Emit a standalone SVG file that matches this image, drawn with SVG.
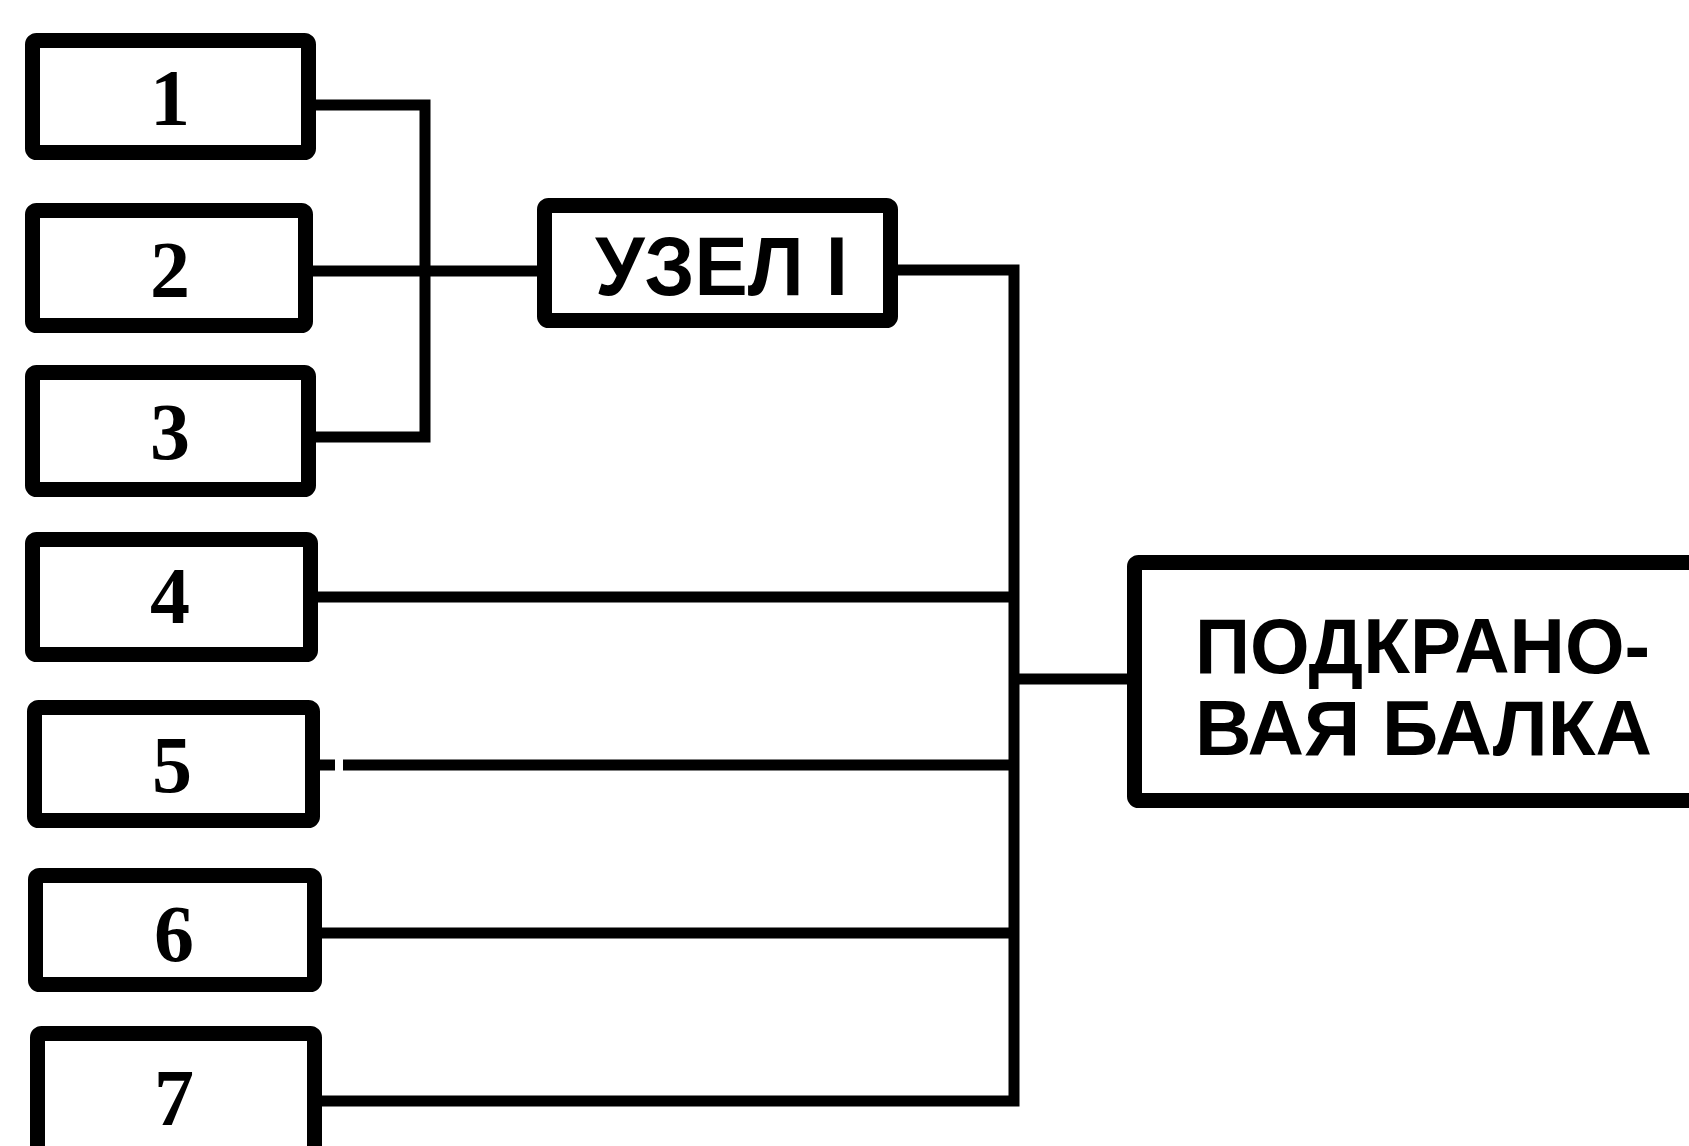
<svg xmlns="http://www.w3.org/2000/svg" width="1689" height="1146" viewBox="0 0 1689 1146">
<style>
.box{fill:#fff;stroke:#000;stroke-width:15;stroke-linejoin:round}
.wire{fill:none;stroke:#000;stroke-width:11;stroke-linejoin:miter}
.num{font-family:"Liberation Serif",serif;font-weight:bold;font-size:80px;text-anchor:middle;fill:#000}
.lbl{font-family:"Liberation Sans",Arial,sans-serif;font-weight:bold;fill:#000}
</style>
<rect width="1689" height="1146" fill="#fff"/>
<g id="connectors">
<path class="wire" d="M316 105 H425 V437 H316"/>
<path class="wire" d="M313 271 H537"/>
<path class="wire" d="M898 270 H1014 V1101 H322"/>
<path class="wire" d="M318 597 H1014"/>
<path class="wire" d="M320 765 H335 M343 765 H1014"/>
<path class="wire" d="M322 933 H1014"/>
<path class="wire" d="M1014 679 H1127"/>
</g>
<g id="n1"><rect class="box" x="32.5" y="40.5" width="276" height="112" rx="4"/><text class="num" x="170" y="125">1</text></g>
<g id="n2"><rect class="box" x="32.5" y="210.5" width="273" height="115" rx="4"/><text class="num" x="170" y="297">2</text></g>
<g id="n3"><rect class="box" x="32.5" y="372.5" width="276" height="117" rx="4"/><text class="num" x="170" y="459">3</text></g>
<g id="n4"><rect class="box" x="32.5" y="539.5" width="278" height="115" rx="4"/><text class="num" x="170" y="623">4</text></g>
<g id="n5"><rect class="box" x="34.5" y="707.5" width="278" height="113" rx="4"/><text class="num" x="172" y="792">5</text></g>
<g id="n6"><rect class="box" x="35.5" y="875.5" width="279" height="109" rx="4"/><text class="num" x="174" y="961">6</text></g>
<g id="n7"><rect class="box" x="37.5" y="1033.5" width="277" height="140" rx="4"/><text class="num" x="174" y="1125">7</text></g>
<g id="uzel"><rect class="box" x="544.5" y="205.5" width="346" height="115" rx="4"/><text class="lbl" x="595" y="295" font-size="84" textLength="253" lengthAdjust="spacingAndGlyphs">УЗЕЛ I</text></g>
<g id="balka"><rect class="box" x="1134.5" y="562.5" width="600" height="238" rx="4"/>
<text class="lbl" x="1195" y="673" font-size="78" textLength="455" lengthAdjust="spacingAndGlyphs">ПОДКРАНО-</text>
<text class="lbl" x="1195" y="755" font-size="78" textLength="457" lengthAdjust="spacingAndGlyphs">ВАЯ БАЛКА</text></g>
</svg>
